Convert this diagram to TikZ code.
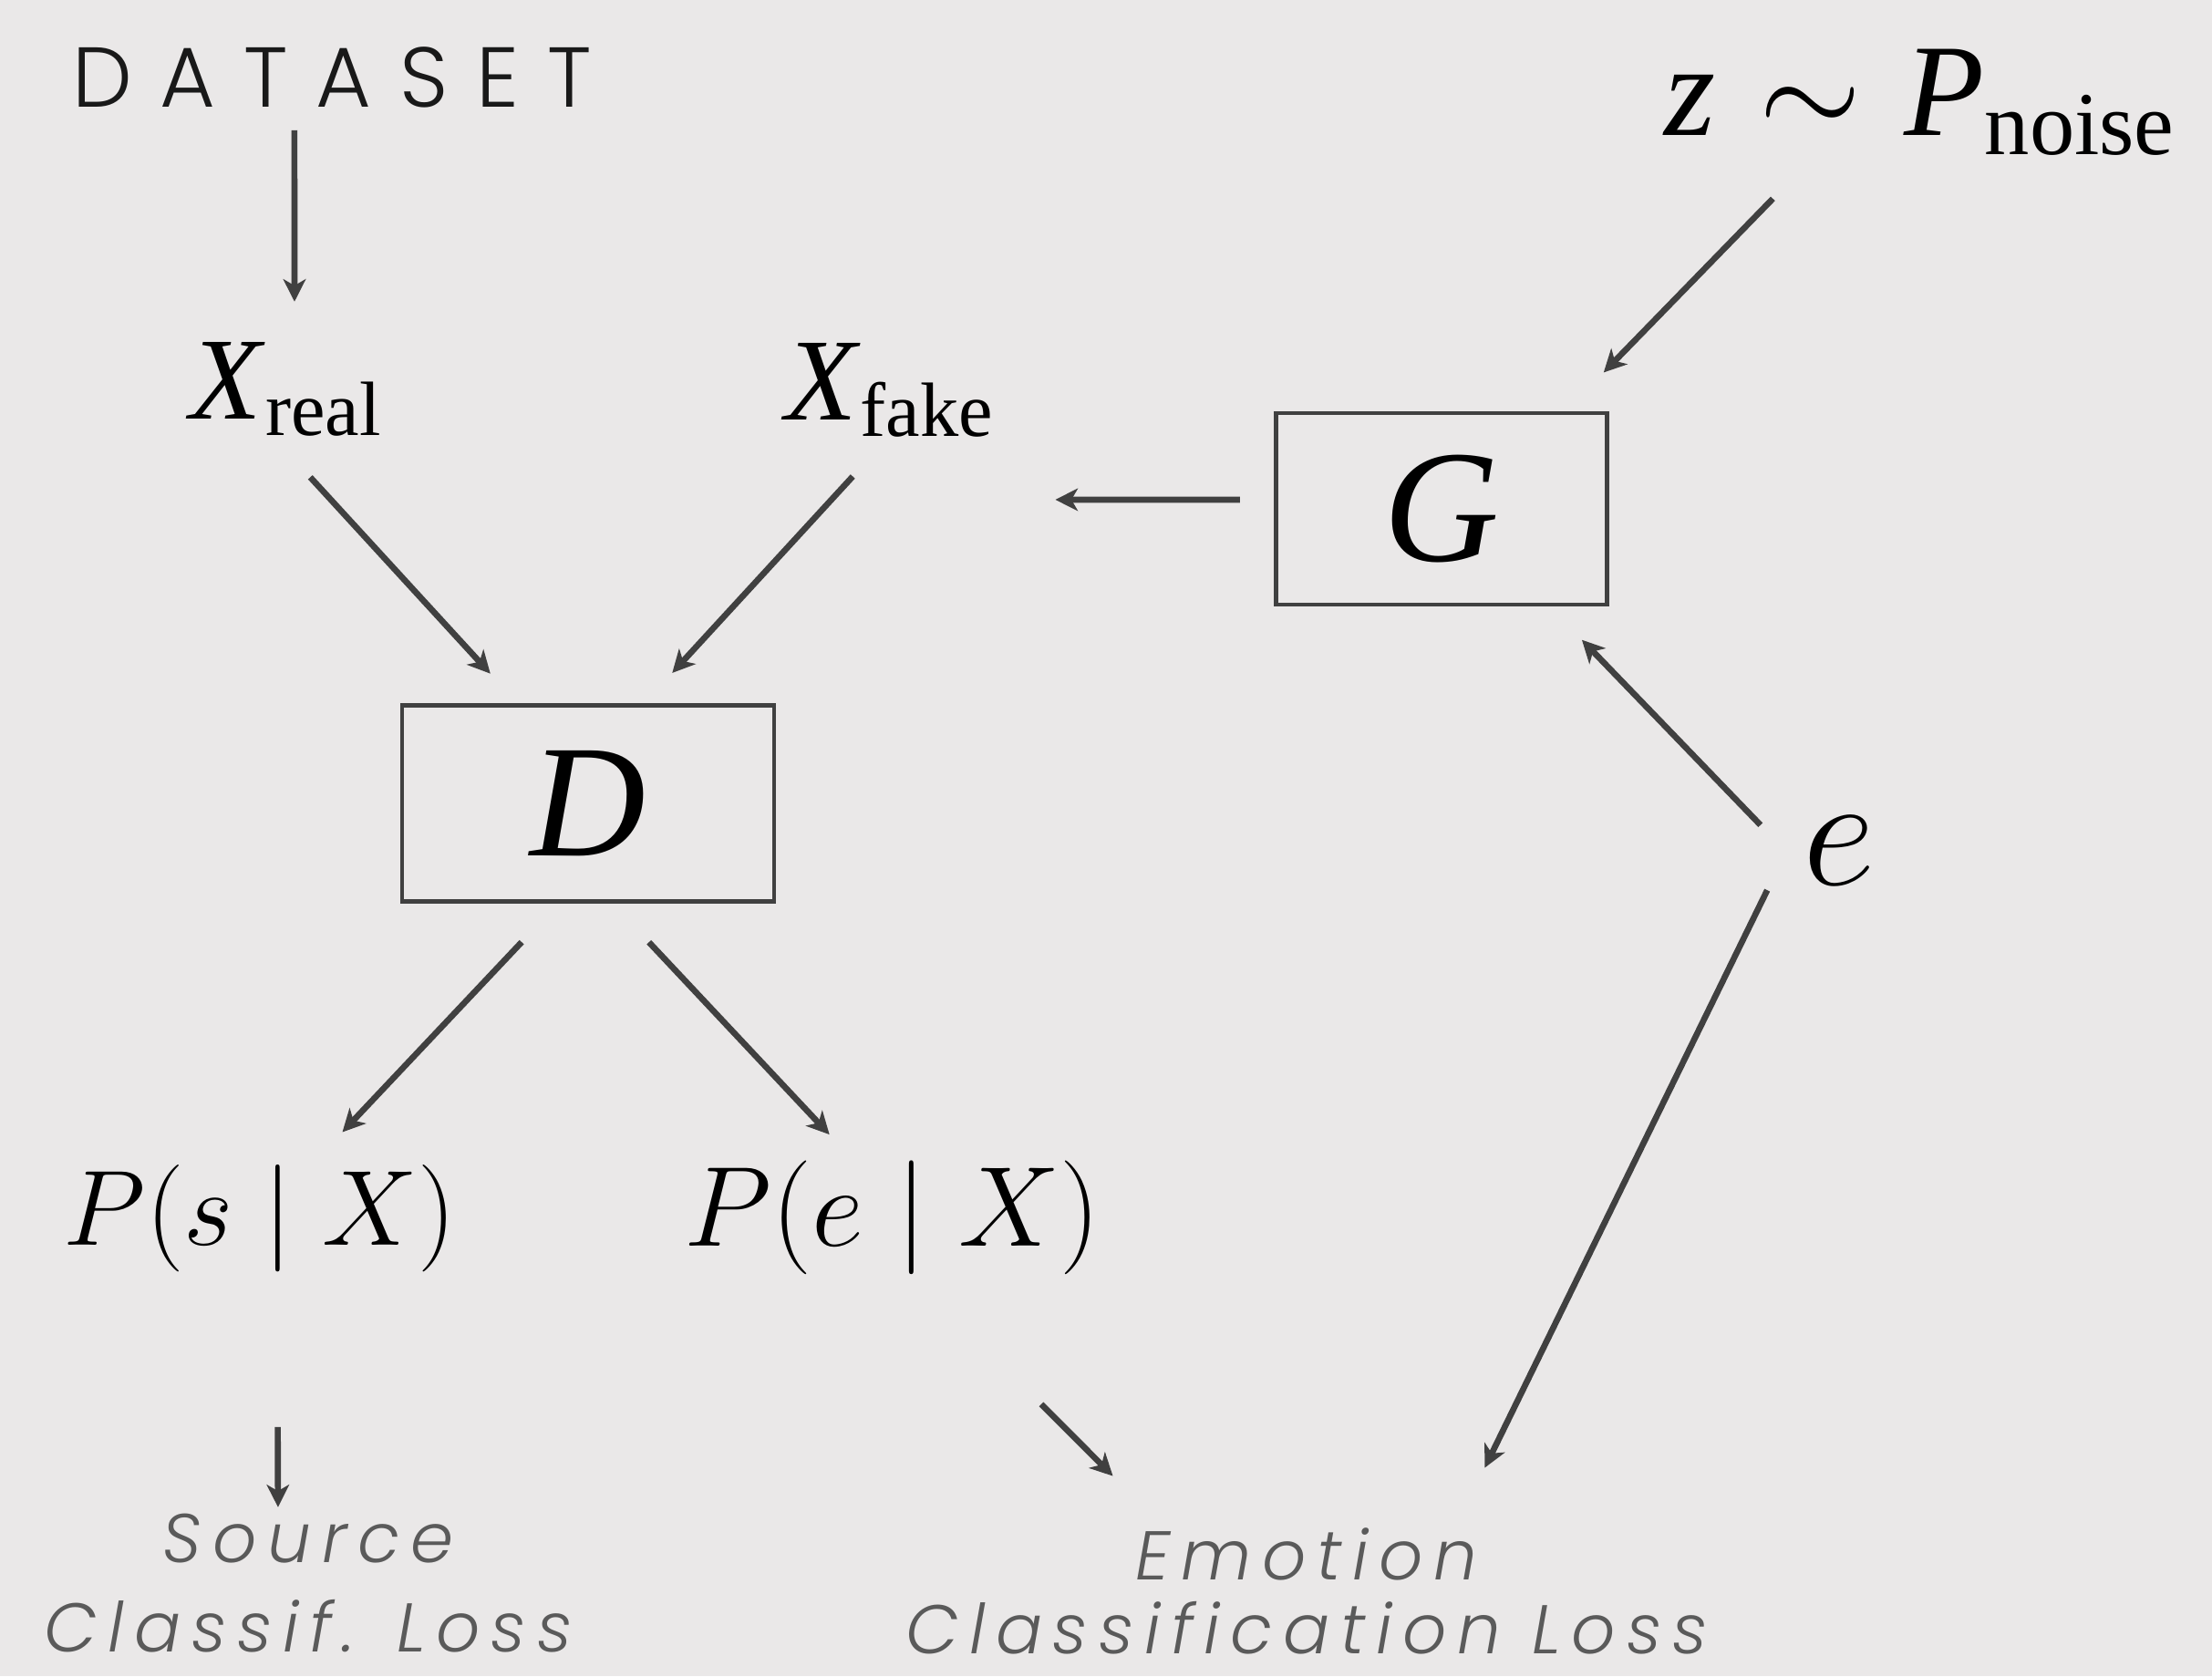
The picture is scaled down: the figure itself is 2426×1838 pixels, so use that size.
\RequirePackage{fix-cm}
\documentclass[tikz,border=0pt]{standalone}
\usepackage{fontspec}
\usetikzlibrary{arrows.meta,calc}
\newfontfamily\tmsfont{Liberation Serif}
\newfontfamily\dsfont[LetterSpace=33]{Poppins Light}
\newfontfamily\lossfont[LetterSpace=15.5]{Poppins Light Italic}
\definecolor{bgcol}{HTML}{EAE8E8}
\definecolor{linecol}{HTML}{404040}
\definecolor{losscol}{HTML}{5A5A5A}
\newcommand{\lowsub}[3]{\raisebox{-#1}{\fontsize{#2}{#2}\selectfont #3}}
\tikzset{every picture/.style={line width=0.75pt}}
\tikzset{
  arr/.style={draw=linecol, line width=1.9pt, -{Stealth[length=7pt,width=7pt,inset=2pt]}},
  blockbox/.style={draw=linecol, line width=1.3pt, inner sep=0pt, outer sep=0pt,
    font=\tmsfont\fontsize{50}{50}\selectfont},
  lbl/.style={inner sep=0pt, outer sep=0pt},
  losslbl/.style={inner sep=0pt, outer sep=0pt, align=center, text=losscol},
}

\begin{document}
\begin{tikzpicture}[x=0.01cm, y=-0.01cm]
    % Background
    \fill[bgcol] (0,0) rectangle (2426,1838);
    \useasboundingbox (0,0) rectangle (2426,1838);
    % Inputs
    \node[lbl, font=\dsfont\fontsize{26.5}{26.5}\selectfont, text=black!90] (ds) at (364,84.5) {DATASET};
    \node[lbl, font=\tmsfont\fontsize{36.5}{36.5}\selectfont] (xreal) at (313,427) {\textit{X}\lowsub{5pt}{24}{real}};
    \node[lbl, font=\tmsfont\fontsize{36.5}{36.5}\selectfont] (xfake) at (975,428) {\textit{X}\lowsub{5pt}{24}{fake}};
    \node[lbl, font=\tmsfont\fontsize{41}{41}\selectfont] (z) at (2105,112)
        {\textit{z}\hspace{0.33em}$\sim$\hspace{0.33em}\textit{P}\lowsub{6pt}{28}{noise}};
    \node[lbl, font=\fontsize{49.6}{49.6}\selectfont] (e) at (2017.5,932.5) {$e$};
    % Networks
    \node[blockbox, minimum width=116pt, minimum height=61.2pt] (D) at (645,881) {\textit{D}};
    \node[blockbox, minimum width=103.3pt, minimum height=59.7pt] (G) at (1581,558) {\textit{G}};
    % Outputs
    \node[lbl, font=\fontsize{33.4}{33.4}\selectfont] (ps) at (285,1336) {$P(s\mid X)$};
    \node[lbl, font=\fontsize{35.5}{35.5}\selectfont] (pe) at (979,1335.5) {$P(e\mid X)$};
    % Losses
    \node[losslbl, font=\lossfont\fontsize{21.5}{28}\selectfont] (src) at (338,1736) {Source\\Classif. Loss};
    \node[losslbl, font=\lossfont\fontsize{21.5}{23}\selectfont] (emo) at (1433,1745) {Emotion\\Classification Loss};
    % Arrows
    \draw[arr, shorten <=7.1pt, shorten >=12.8pt] ([xshift=-11.7pt]ds.south) -- ([xshift=2.85pt]xreal.north);
    \draw[arr, shorten <=17.4pt, shorten >=13.4pt] ([xshift=-4pt]xreal.south) -- (D.125);
    \draw[arr, shorten <=16.7pt, shorten >=13.7pt] (xfake.south) -- (D.61);
    \draw[arr, shorten <=11.2pt, shorten >=19.5pt] ([yshift=2.85pt]G.west) -- ([yshift=-34.1pt]xfake.east);
    \draw[arr, shorten <=18.9pt, shorten >=17.7pt] (z.207) -- (G.38);
    \draw[arr, shorten <=19.3pt, shorten >=15.3pt] (e.208) -- (G.-42);
    \draw[arr, shorten <=25.7pt, shorten >=21pt] (e.north west) -- (emo.23);
    \draw[arr, shorten <=17.4pt, shorten >=14pt] (D.254) -- (ps.46);
    \draw[arr, shorten <=17.4pt, shorten >=11.3pt] (D.283) -- (pe.124);
    \draw[arr, shorten <=48.4pt, shorten >=2pt] ([xshift=5.4pt]ps.south) -- ([xshift=-9.4pt]src.north);
    \draw[arr, shorten <=57pt, shorten >=23pt] (pe.-71) -- (emo.156);
\end{tikzpicture}
\end{document}
